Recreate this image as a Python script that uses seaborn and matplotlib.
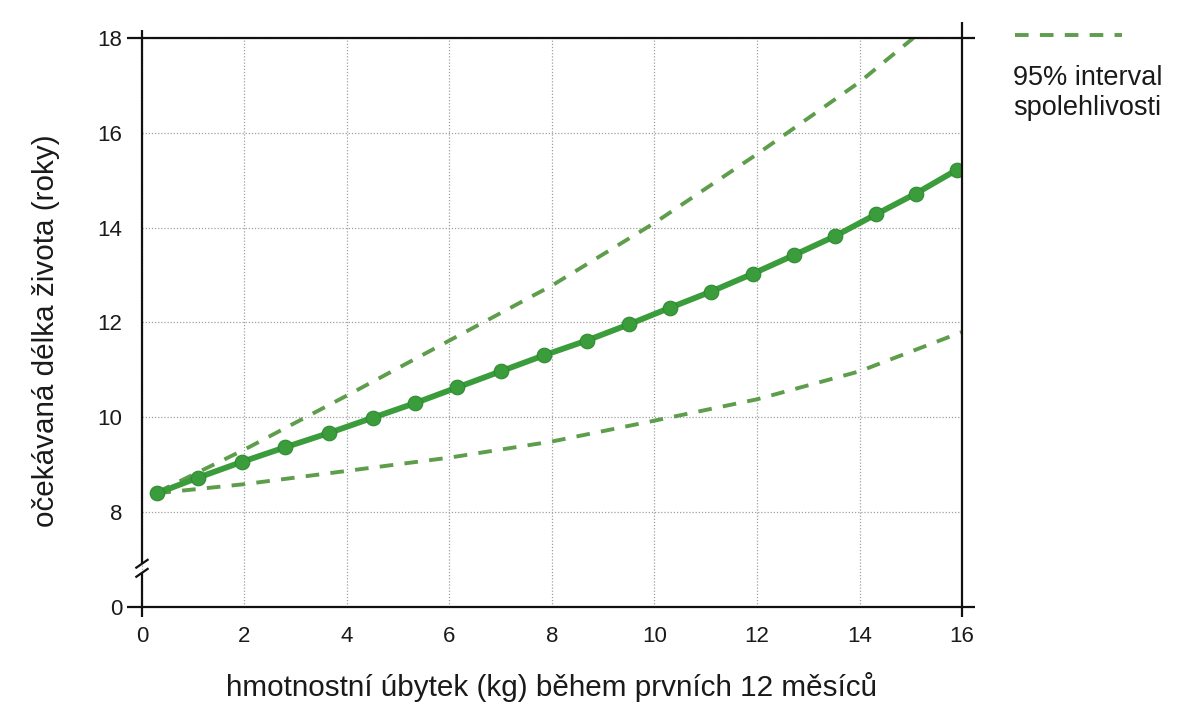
import matplotlib
matplotlib.use("Agg")
import matplotlib.pyplot as plt
from matplotlib.lines import Line2D
import pandas as pd
import seaborn as sns

# Life expectancy vs. weight loss during the first 12 months
weight_loss = [0.3, 1.1, 1.95, 2.8, 3.65, 4.5, 5.33, 6.15, 7.0, 7.85,
               8.68, 9.5, 10.3, 11.1, 11.92, 12.72, 13.52, 14.32, 15.1, 15.9]
life_expectancy = [8.40, 8.73, 9.06, 9.37, 9.67, 9.99, 10.30, 10.63, 10.97, 11.31,
                   11.62, 11.96, 12.31, 12.65, 13.03, 13.42, 13.82, 14.28, 14.72, 15.22]

# 95% confidence band
ci_x_upper = [0.3, 2, 4, 6, 8, 10, 12, 14, 15.05]
ci_upper = [8.42, 9.32, 10.46, 11.62, 12.78, 14.1, 15.55, 17.07, 18.0]
ci_x_lower = [0.3, 2, 4, 6, 8, 10, 12, 14, 16]
ci_lower = [8.40, 8.59, 8.87, 9.15, 9.49, 9.93, 10.38, 10.97, 11.80]

x_ticks = [0, 2, 4, 6, 8, 10, 12, 14, 16]
y_ticks = [6, 8, 10, 12, 14, 16, 18]
y_tick_labels = ["0", "8", "10", "12", "14", "16", "18"]

x_label = "hmotnostní úbytek (kg) během prvních 12 měsíců"
y_label = "očekávaná délka života (roky)"
legend_label = "95% interval\nspolehlivosti"

sns.set_theme(style="white")
plt.rcParams["font.family"] = ["Liberation Sans", "DejaVu Sans"]

main_green = "#3b9c3c"
edge_green = "#2f8a32"
ci_green = "#5e9d4b"
text_color = "#1a1a1a"

fig = plt.figure(figsize=(11.89, 7.09), dpi=100)
ax = fig.add_axes([0.1194, 0.1439, 0.6897, 0.8025])

main_df = pd.DataFrame({"x": weight_loss, "y": life_expectancy})
upper_df = pd.DataFrame({"x": ci_x_upper, "y": ci_upper})
lower_df = pd.DataFrame({"x": ci_x_lower, "y": ci_lower})

dash = (3.5, 2.9)
sns.lineplot(data=upper_df, x="x", y="y", ax=ax, color=ci_green, lw=2.8,
             estimator=None, sort=True, zorder=3)
sns.lineplot(data=lower_df, x="x", y="y", ax=ax, color=ci_green, lw=2.8,
             estimator=None, sort=True, zorder=3)
for ln in ax.lines:
    ln.set_dashes(dash)
sns.lineplot(data=main_df, x="x", y="y", ax=ax, color=main_green, lw=4.2,
             marker="o", markersize=10.5, markeredgewidth=0.8,
             markeredgecolor=edge_green,
             estimator=None, sort=True, zorder=4)

ax.set_xlim(0, 16)
ax.set_ylim(6, 18)
ax.set_xticks(x_ticks)
ax.set_xticklabels([str(t) for t in x_ticks])
ax.set_yticks(y_ticks)
ax.set_yticklabels(y_tick_labels)
ax.set_xlabel(x_label, fontsize=21.3, color=text_color, labelpad=18)
ax.set_ylabel(y_label, fontsize=21.3, color=text_color)
ax.yaxis.set_label_coords(-0.1, 0.485)

ax.grid(True, linestyle=(0, (1, 1.5)), color="#a0a0a0", linewidth=0.9)
ax.tick_params(axis="both", which="major", labelsize=16, colors=text_color,
               length=7, width=0.9, direction="out", pad=7)
for t in ax.xaxis.get_major_ticks() + ax.yaxis.get_major_ticks():
    t.tick1line.set_color("#a8a8a8")

for s in ax.spines.values():
    s.set_visible(False)

# Frame lines drawn with slight overhang, and a break mark on the y axis
frame_kw = dict(transform=ax.transAxes, color="#111111", lw=1.6,
                clip_on=False, zorder=5, solid_capstyle="butt")
ax.add_line(Line2D([-0.018, 1.016], [0, 0], **frame_kw))
ax.add_line(Line2D([-0.018, 1.016], [1, 1], **frame_kw))
ax.add_line(Line2D([1, 1], [-0.018, 1.028], **frame_kw))
ax.add_line(Line2D([0, 0], [-0.018, 0.060], **frame_kw))
ax.add_line(Line2D([0, 0], [0.076, 1.014], **frame_kw))
for yb in (0.060, 0.076):
    ax.add_line(Line2D([-0.008, 0.008], [yb - 0.008, yb + 0.008], **frame_kw))

# Legend for the confidence band
fig.add_artist(Line2D([0.8537, 0.9437], [0.9506, 0.9506], transform=fig.transFigure,
                      color=ci_green, lw=2.8, dashes=dash))
fig.text(0.852, 0.908, legend_label, fontsize=19.5, color=text_color,
         ha="left", va="top", linespacing=1.2)

fig.savefig("out.png", dpi=100, facecolor="white")
